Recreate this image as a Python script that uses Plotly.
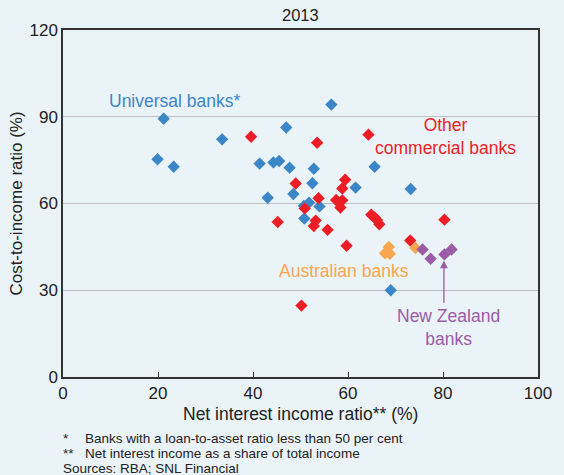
import plotly.graph_objects as go

# Universal banks (blue)
univ_x = [21.2, 56.5, 33.5, 47.0, 19.9, 23.3, 41.4, 44.3, 45.5, 47.7, 52.8, 65.6, 52.5, 61.6, 73.2, 43.1, 48.5, 51.8, 50.7, 54.0, 50.8, 69.0]
univ_y = [89.3, 94.2, 82.2, 86.3, 75.3, 72.7, 73.8, 74.2, 74.7, 72.4, 72.0, 72.7, 67.0, 65.5, 65.0, 62.0, 63.3, 60.3, 59.2, 59.0, 54.8, 30.0]

# Other commercial banks (red)
other_x = [39.6, 53.5, 64.3, 49.0, 59.4, 58.8, 53.8, 57.5, 58.8, 58.4, 50.9, 45.2, 53.2, 52.8, 55.7, 64.9, 65.6, 66.1, 66.6, 80.3, 59.7, 73.1, 50.2]
other_y = [83.1, 81.0, 83.8, 66.9, 68.2, 65.2, 61.8, 61.2, 61.1, 58.6, 58.3, 53.6, 54.1, 52.2, 50.9, 56.1, 55.2, 54.3, 52.8, 54.4, 45.4, 47.2, 24.7]

# Australian banks (orange)
aus_x = [67.8, 68.8, 68.6, 74.2]
aus_y = [42.8, 42.6, 45.0, 44.6]

# New Zealand banks (purple)
nz_x = [75.7, 77.4, 80.3, 81.8]
nz_y = [44.1, 40.9, 42.4, 44.1]

x_ticks = [0, 20, 40, 60, 80, 100]
y_ticks = [0, 30, 60, 90, 120]

BLUE = "#3B86C8"
RED = "#EE1D25"
ORANGE = "#F8A64E"
PURPLE = "#9C5BA6"
BG = "#EAF3F7"
TXT = "#222222"
FONT = "Liberation Sans, Arial, sans-serif"

fig = go.Figure()
for xs, ys, col, name in [(univ_x, univ_y, BLUE, "Universal"),
                          (other_x, other_y, RED, "Other"),
                          (aus_x, aus_y, ORANGE, "Australian"),
                          (nz_x, nz_y, PURPLE, "New Zealand")]:
    fig.add_trace(go.Scatter(x=xs, y=ys, mode="markers", name=name,
                             marker=dict(symbol="diamond", size=9.5, color=col,
                                         line=dict(width=0)),
                             showlegend=False, cliponaxis=False))

PLOT_TOP, PLOT_BOTTOM = 30, 377


def py(p):
    return (PLOT_BOTTOM - p) / float(PLOT_BOTTOM - PLOT_TOP)


ann = []
ann.append(dict(x=23.5, y=95.5, xref="x", yref="y", text="Universal banks*",
                showarrow=False, font=dict(color=BLUE, size=17.5)))
ann.append(dict(x=80.6, y=83.0, xref="x", yref="y", text="Other<br>commercial banks",
                showarrow=False, font=dict(color=RED, size=17.5)))
ann.append(dict(x=59.2, y=36.8, xref="x", yref="y", text="Australian banks",
                showarrow=False, font=dict(color=ORANGE, size=17.5)))
ann.append(dict(x=81.1, y=17.1, xref="x", yref="y", text="New Zealand<br>banks",
                showarrow=False, font=dict(color=PURPLE, size=17.5)))
ann.append(dict(x=80.2, y=40.3, ax=80.2, ay=25.2, xref="x", yref="y", axref="x", ayref="y",
                text="", showarrow=True, arrowhead=2, arrowsize=1.2, arrowwidth=1.3,
                arrowcolor=PURPLE))

ann.append(dict(x=0.5, y=py(15), xref="paper", yref="paper", text="2013", showarrow=False,
                yanchor="middle", font=dict(size=16.5, color=TXT)))
ann.append(dict(x=0.5, y=py(414), xref="paper", yref="paper",
                text="Net interest income ratio** (%)", showarrow=False,
                yanchor="middle", font=dict(size=17.5, color=TXT)))
foot = [("*", "Banks with a loan-to-asset ratio less than 50 per cent", 438),
        ("**", "Net interest income as a share of total income", 453)]
FOOT_SIZE = 13.5
for mark, txt, p in foot:
    ann.append(dict(x=-0.003, y=py(p), xref="paper", yref="paper", text=mark,
                    xanchor="left", yanchor="middle", showarrow=False, borderpad=0,
                    font=dict(size=FOOT_SIZE, color=TXT)))
    ann.append(dict(x=(84 - 63) / 477.0, y=py(p), xref="paper", yref="paper", text=txt,
                    xanchor="left", yanchor="middle", showarrow=False, borderpad=0,
                    font=dict(size=FOOT_SIZE, color=TXT)))
ann.append(dict(x=-0.003, y=py(468), xref="paper", yref="paper", text="Sources: RBA; SNL Financial",
                xanchor="left", yanchor="middle", showarrow=False, borderpad=0,
                font=dict(size=FOOT_SIZE, color=TXT)))

fig.update_layout(
    width=564, height=475,
    margin=dict(l=63, r=24, t=PLOT_TOP, b=475 - PLOT_BOTTOM),
    paper_bgcolor=BG, plot_bgcolor=BG,
    font=dict(family=FONT, color=TXT),
    annotations=ann,
    xaxis=dict(range=[0, 100], tickvals=x_ticks, ticks="inside", ticklen=5,
               tickcolor="#333", showgrid=False, zeroline=False,
               showline=True, linecolor="#333", linewidth=1.5, mirror=True,
               tickfont=dict(size=17, color=TXT)),
    yaxis=dict(range=[0, 120], tickvals=y_ticks, ticks="", showgrid=True,
               gridcolor="#BDBFC1", gridwidth=1.2, zeroline=False,
               showline=True, linecolor="#333", linewidth=1.5, mirror=True,
               tickfont=dict(size=17, color=TXT),
               title=dict(text="Cost-to-income ratio (%)", font=dict(size=17, color=TXT),
                          standoff=3)),
)
fig.write_html("out.html", config={"displayModeBar": False},
               post_script="document.body.style.margin='0';document.body.style.background='%s';" % BG)
